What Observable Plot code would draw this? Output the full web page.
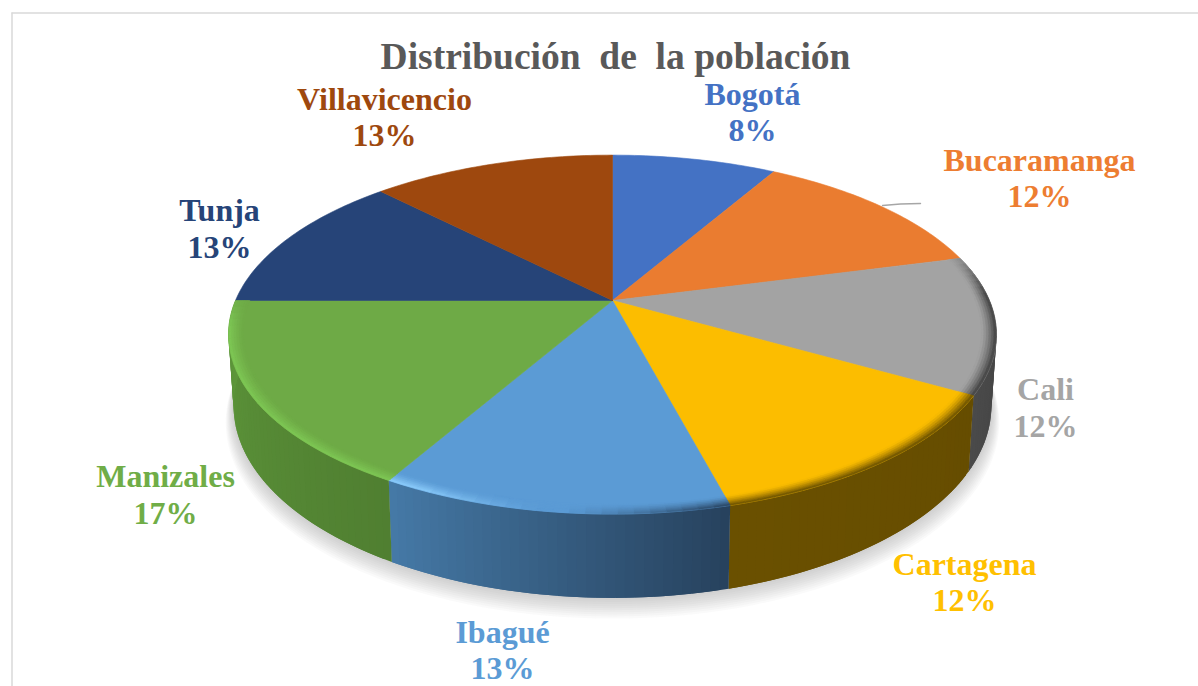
<!DOCTYPE html>
<html>
<head>
<meta charset="utf-8">
<script src="https://cdn.jsdelivr.net/npm/d3@7"></script>
<script src="https://cdn.jsdelivr.net/npm/@observablehq/plot@0.6"></script>
<style>
html,body{margin:0;padding:0;background:#fff;overflow:hidden}
svg{display:block;white-space:pre}
</style>
</head>
<body>
<script>
// ---- data ----
const titleText = "Distribución  de  la población";
const cities = ["Bogotá","Bucaramanga","Cali","Cartagena","Ibagué","Manizales","Tunja","Villavicencio"];
const printedPercent = ["8%","12%","12%","12%","13%","17%","13%","13%"];
// angular share of each slice as measured on the drawn pie
const drawnShare = [8.3,12.6,12.4,12.6,12.35,16.75,12.7,12.3];

// ---- style ----
const faceColors = ["#4472c4","#ea7c30","#a3a3a3","#fcbd00","#5b9bd5","#6eaa46","#264478","#9e480e"];
const labelColors = ["#4472c4","#ed7d31","#a5a5a5","#ffc000","#5b9bd5","#70ad47","#264478","#9e480e"];
const wallFrom = {Cali:"#3e3e3e",Cartagena:"#664d00",["Ibagué"]:"#27425e",Manizales:"#507f31"};
const wallTo   = {Cali:"#4a4a4a",Cartagena:"#6a5000",["Ibagué"]:"#4579a6",Manizales:"#5e983b"};
const rimLight = {["Ibagué"]:"#8ccdfc",Manizales:"#7ec855"};
const rimDark  = {Cali:"#3e3e3e",Cartagena:"#664d00",["Ibagué"]:"#27425e"};

// ---- layout ----
const labelX = [752,1039,1045,964,502,165,219,384];
const labelY = [111,177,406.5,581,649,493.5,227.5,116];
const leader = [[882,205],[900,203.5],[920,203]];
const frameLeft = 11.5, frameTop = 12.5;

// ---- pie geometry: perspective view of a flat cylinder ----
const k = 0.19, cx = 612;
const planes = {top:{a:377,b:173,y0:300},bottom:{a:372,b:185,y0:369}};
const rad = d => d*Math.PI/180;
function project(deg,r,plane){
  const p = planes[plane], X = r*Math.sin(rad(deg)), Y = r*Math.cos(rad(deg)), d = 1+k*Y;
  return {x:cx+p.a*X/d, y:p.y0-p.b*Y/d};
}
let acc = 0;
const total = d3.sum(drawnShare);
const slices = cities.map((city,i)=>{
  const a0 = acc/total*360; acc += drawnShare[i];
  return {city,i,a0,a1:acc/total*360};
});
const steps = (a0,a1,by)=>{const n=Math.max(1,Math.round((a1-a0)/by));return d3.range(n+1).map(j=>a0+(a1-a0)*j/n);};

// top faces
const faces = slices.flatMap(s=>{
  const c = faceColors[s.i], id = "f"+s.i;
  const pts = [{x:cx,y:planes.top.y0},...steps(s.a0,s.a1,1).map(a=>project(a,1,"top")),{x:cx,y:planes.top.y0}];
  return pts.map(p=>({...p,id,c}));
});

// side wall, cut in thin vertical strips that overlap so no seam shows
const walls = slices.filter(s=>wallFrom[s.city]).flatMap(s=>{
  const as = steps(s.a0,s.a1,1.2), col = d3.interpolateRgb(wallFrom[s.city],wallTo[s.city]);
  return d3.pairs(as).flatMap(([a,b],j)=>{
    const c = col(j/(as.length-2||1)), id = s.city+j, e = Math.min(s.a1,b+1.2);
    return [project(a,1,"top"),project(e,1,"top"),project(e,1,"bottom"),project(a,1,"bottom"),project(a,1,"top")]
      .map(p=>({...p,id,c}));
  });
});

// bevel on the rim: lit on the left, in shade at the front right
const ramp = (v,a,b)=>Math.max(0,Math.min(1,(v-a)/(b-a)));
const rimColor = (s,a,t)=>{
  const face = faceColors[s.i];
  const light = ramp(a,190,205)*(1-ramp(a,262,272));
  const dark = (1-ramp(a,166,186))*ramp(a,72,88);
  let edge = face;
  if (light>0 && rimLight[s.city]) edge = d3.interpolateRgb(face,rimLight[s.city])(light);
  if (dark>0 && rimDark[s.city]) edge = d3.interpolateRgb(face,rimDark[s.city])(dark);
  return d3.interpolateRgb(face,edge)(t);
};
const radial = d3.range(7).map(j=>0.962+j*0.0063);
const bevel = slices.filter(s=>wallFrom[s.city]).flatMap(s=>{
  const as = steps(s.a0,s.a1,2);
  return d3.pairs(as).flatMap(([a,b],j)=>d3.pairs(radial).flatMap(([r0,r1],m)=>{
    const id = `b${s.i}-${j}-${m}`, c = rimColor(s,(a+b)/2,Math.pow((m+0.5)/(radial.length-1),1.4));
    return [project(a,r0,"top"),project(b,r0,"top"),project(b,r1,"top"),project(a,r1,"top"),project(a,r0,"top")]
      .map(p=>({...p,id,c}));
  }));
});

// soft shadow under the pie: stacked translucent copies of the base outline
const shadow = d3.range(1,11).flatMap(j=>
  d3.range(0,361,2).map(a=>{
    const p = project(a,1+0.002*j,"bottom");
    return {x:p.x,y:p.y+j*1.5,id:"s"+j};
  })
);

const labels = slices.map(s=>({
  text:`${s.city}\n${printedPercent[s.i]}`, x:labelX[s.i], y:labelY[s.i], c:labelColors[s.i]
}));

const chart = Plot.plot({
  width:1198,height:686,margin:0,
  x:{domain:[0,1198],range:[0,1198],axis:null},
  y:{domain:[0,686],range:[0,686],axis:null},
  color:{type:"identity"},
  style:{background:"#fff"},
  marks:[
    Plot.ruleX([frameLeft],{y1:frameTop,y2:686,stroke:"#d9d9d9",strokeWidth:1.5}),
    Plot.ruleY([frameTop],{x1:frameLeft,x2:1198,stroke:"#d9d9d9",strokeWidth:1.5}),
    Plot.line(shadow,{x:"x",y:"y",z:"id",fill:"#707070",fillOpacity:0.035,stroke:"none"}),
    Plot.line(walls,{x:"x",y:"y",z:"id",fill:"c",stroke:"none"}),
    Plot.line(faces,{x:"x",y:"y",z:"id",fill:"c",stroke:"c",strokeWidth:0.6}),
    Plot.line(bevel,{x:"x",y:"y",z:"id",fill:"c",stroke:"c",strokeWidth:0.6}),
    Plot.line(leader,{x:d=>d[0],y:d=>d[1],stroke:"#a6a6a6",strokeWidth:1.4}),
    Plot.text(labels,{x:"x",y:"y",text:"text",fill:"c",fontFamily:"Liberation Serif",fontWeight:"bold",fontSize:32,lineHeight:1.14,lineAnchor:"middle",textAnchor:"middle"}),
    Plot.text([titleText],{x:()=>615,y:()=>56,text:d=>d,fill:"#595959",fontFamily:"Liberation Serif",fontWeight:"bold",fontSize:37.5,lineAnchor:"middle",textAnchor:"middle"})
  ]
});
document.body.append(chart);
</script>
</body>
</html>
